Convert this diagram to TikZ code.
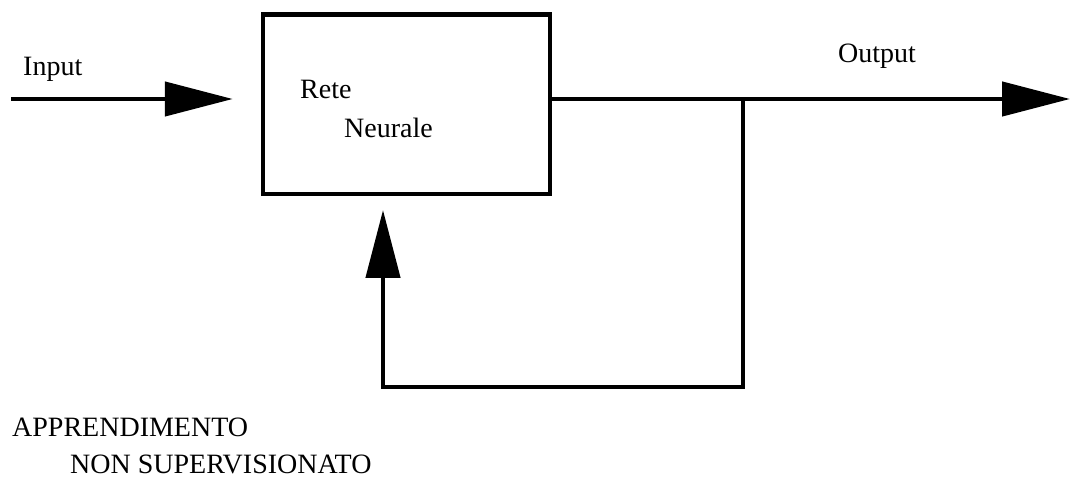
\documentclass[tikz,border=0pt]{standalone}
\usepackage{fontspec}
\setmainfont{Liberation Serif}
\usetikzlibrary{arrows.meta}

\begin{document}
\begin{tikzpicture}[x=1pt,y=-1pt,
  wire/.style={line width=4.5pt},
  bigtip/.style={-{Triangle[length=68pt,width=34pt]}},
  block/.style={draw,line width=4.5pt,rectangle,inner sep=0pt,
    minimum width=287pt,minimum height=179.5pt},
  label/.style={anchor=base west,inner sep=0pt,font=\fontsize{28}{34}\selectfont}]
  \useasboundingbox (0,0) rectangle (1071,486);

  % the network block
  \node[block] (net) at (406.5,104.25) {};
  \node[label] (rete) at (300,99) {Rete};
  \node[label] (neur) at (344,138) {Neurale};

  % signal path
  \coordinate (in) at (11,99);
  \coordinate (split) at (743,99);
  \coordinate (out) at (1070,99);
  \coordinate (corner) at (743,387);
  \coordinate (fbtip) at (383,210);

  \draw[wire,bigtip] (in) -- ([xshift=-28pt]net.west |- in);
  \draw[wire,bigtip] (net.east |- split) -- (out);
  \draw[wire,bigtip] (split) -- (corner) -| (fbtip);

  \node[label] (inlab) at (23,76) {Input};
  \node[label] (outlab) at (838,63) {Output};
  \node[label] (learn1) at (12,436) {APPRENDIMENTO};
  \node[label] (learn2) at (70,473) {NON SUPERVISIONATO};
\end{tikzpicture}
\end{document}
